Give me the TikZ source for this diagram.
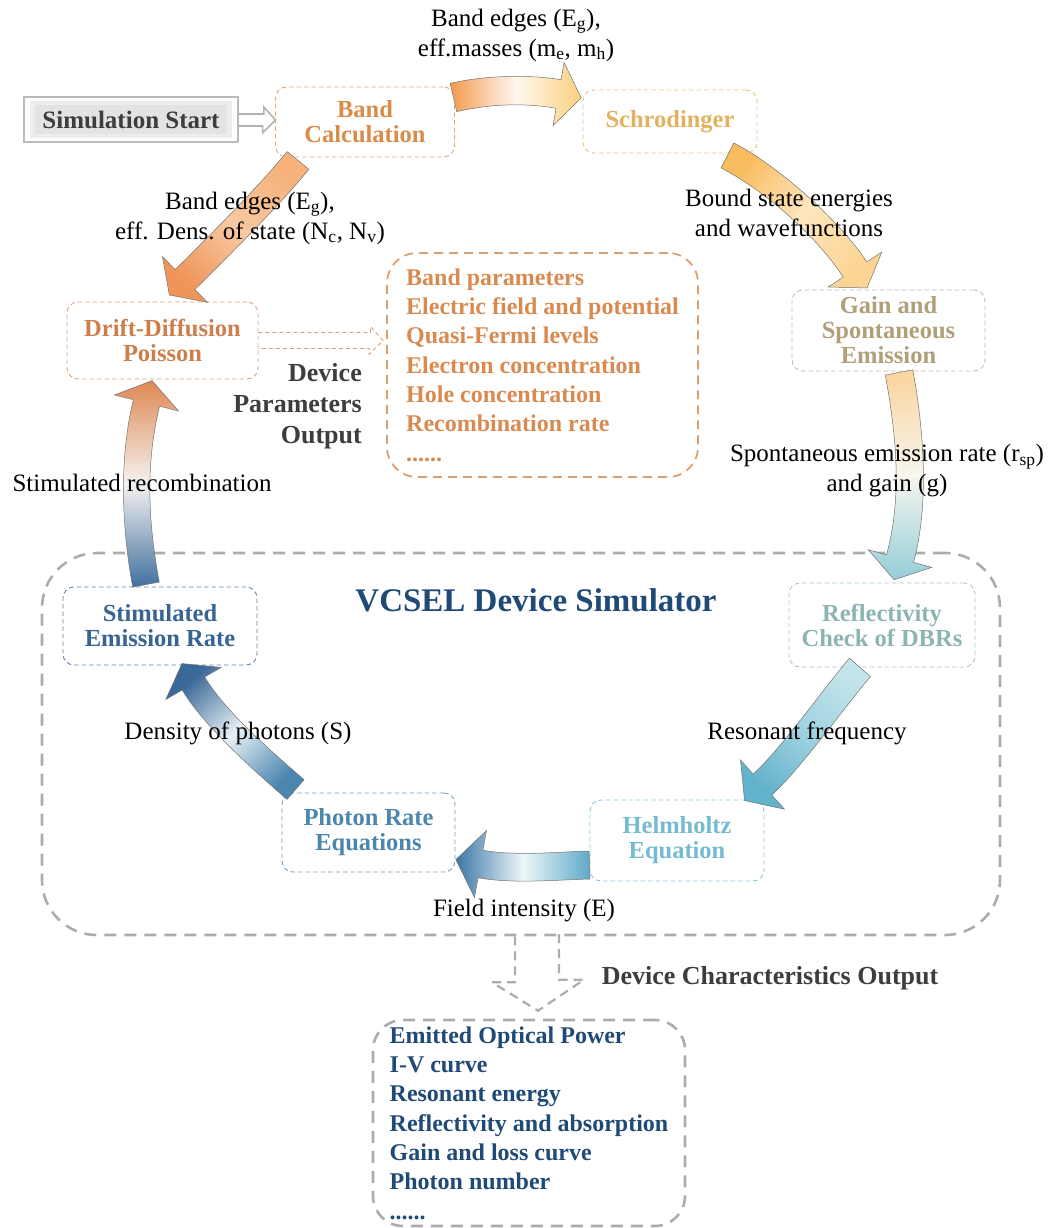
\documentclass[tikz,border=0pt]{standalone}
\usepackage{fontspec}
\setmainfont{Liberation Serif}
\usetikzlibrary{calc}
\definecolor{cBand}{HTML}{D98B48}\definecolor{cBandB}{HTML}{E0A771}
\definecolor{cSchro}{HTML}{E3B25E}\definecolor{cSchroB}{HTML}{E9C584}
\definecolor{cGain}{HTML}{B09F79}\definecolor{cGainB}{HTML}{C7BB9C}
\definecolor{cRefl}{HTML}{8BB4B2}\definecolor{cReflB}{HTML}{A9C9C8}
\definecolor{cHelm}{HTML}{74BBD2}\definecolor{cHelmB}{HTML}{86C5DA}
\definecolor{cPhot}{HTML}{4C86AD}\definecolor{cPhotB}{HTML}{73A1C0}
\definecolor{cStim}{HTML}{386494}\definecolor{cStimB}{HTML}{5F86AB}
\definecolor{cDrift}{HTML}{CC7F4C}\definecolor{cDriftB}{HTML}{DBA27C}
\definecolor{cParam}{HTML}{D98A50}\definecolor{cParamB}{HTML}{DE9F6E}
\definecolor{cTitle}{HTML}{1F4A78}
\definecolor{cGray}{HTML}{3D3D3D}
\definecolor{simgray}{HTML}{ACACAC}
% arrow colours: t tail, m middle, h head
\definecolor{aat}{HTML}{F29A4E}\definecolor{aam}{HTML}{FFF8F0}\definecolor{aah}{HTML}{FBD07E}
\definecolor{abt}{HTML}{F9BC5E}\definecolor{abm}{HTML}{FDE6BE}\definecolor{abh}{HTML}{FCD593}
\definecolor{act}{HTML}{FAD49C}\definecolor{acm}{HTML}{F8F6EF}\definecolor{ach}{HTML}{93CDD8}
\definecolor{adt}{HTML}{C3E4EA}\definecolor{adm}{HTML}{9ED2E0}\definecolor{adh}{HTML}{62B2CB}
\definecolor{aet}{HTML}{5EA9C8}\definecolor{aem}{HTML}{EEF6F9}\definecolor{aeh}{HTML}{3B76A6}
\definecolor{aft}{HTML}{4A86B0}\definecolor{afm}{HTML}{E8F0F6}\definecolor{afh}{HTML}{3A6898}
\definecolor{agt}{HTML}{40709F}\definecolor{agm}{HTML}{F4F2F0}\definecolor{agh}{HTML}{DF8853}
\definecolor{aht}{HTML}{F6B27A}\definecolor{ahm}{HTML}{F8C9A3}\definecolor{ahh}{HTML}{EF955A}
\newcommand\nodefnt{\fontsize{24.5}{25}\selectfont\bfseries}
\newcommand\lblfnt{\fontsize{25}{30}\selectfont}
\newcommand\listfnt{\fontsize{24}{29.3}\selectfont\bfseries}
\newcommand\outfnt{\fontsize{26}{31}\selectfont\bfseries}
% block arrow: P0, P1, P2, P3 (head base), half width, head half width, head length, style
\newcommand\blockarr[8]{%
  \coordinate (q0) at (#1);
  \coordinate (q1) at (#2);
  \coordinate (q2) at (#3);
  \coordinate (q3) at (#4);
  \coordinate (l0) at ($(q0)!#5!90:(q1)$);
  \coordinate (l1) at ($(q1)!#5!-90:(q0)$);
  \coordinate (l2) at ($(q2)!#5!90:(q3)$);
  \coordinate (l3) at ($(q3)!#5!-90:(q2)$);
  \coordinate (r0) at ($(q0)!#5!-90:(q1)$);
  \coordinate (r1) at ($(q1)!#5!90:(q0)$);
  \coordinate (r2) at ($(q2)!#5!-90:(q3)$);
  \coordinate (r3) at ($(q3)!#5!90:(q2)$);
  \coordinate (bl) at ($(q3)!#6!-90:(q2)$);
  \coordinate (br) at ($(q3)!#6!90:(q2)$);
  \coordinate (tp) at ($(q3)!#7!180:(q2)$);
  \path[barr,#8] (l0) .. controls (l1) and (l2) .. (l3) -- (bl) -- (tp) -- (br) -- (r3) .. controls (r2) and (r1) .. (r0) -- cycle;
}
\begin{document}
\begin{tikzpicture}[x=1pt,y=-1pt,
  nbox/.style={rectangle, rounded corners=11pt, dash pattern=on 4.5pt off 3pt, line width=0.9pt, inner sep=0pt, align=center, font=\nodefnt},
  lbl/.style={align=center, font=\lblfnt, inner sep=0pt},
  bigdash/.style={draw=simgray, line width=2.6pt, dash pattern=on 12pt off 8pt},
  barr/.style={draw=black!55, line width=0.5pt},
  lst/.style={align=left, font=\listfnt, inner sep=0pt}]
\useasboundingbox (0,0) rectangle (1059,1228);

% ---------- boxes ----------
\node[bigdash, rectangle, rounded corners=55pt, minimum width=958pt, minimum height=382pt] (sim) at (521,744) {};
\node[font=\fontsize{33}{36}\selectfont\bfseries, text=cTitle, inner sep=0pt] (title) at (536,600) {VCSEL Device Simulator};

\fill[black!7] (30,101) rectangle (232,138);
\fill[black!11] (35,105) rectangle (227,134);
\node[draw=black!27, line width=1.6pt, minimum width=214pt, minimum height=45pt, inner sep=0pt, font=\fontsize{25}{26}\selectfont\bfseries, text=cGray] (start) at (131,119.5) {Simulation Start};

\node[nbox, draw=cBandB, text=cBand, minimum width=179pt, minimum height=70pt] (band) at (365,122) {Band\\Calculation};
\node[nbox, draw=cSchroB, text=cSchro, minimum width=174pt, minimum height=63pt] (schro) at (670,121.5) {Schrodinger};
\node[nbox, draw=cGainB, text=cGain, minimum width=193pt, minimum height=81pt] (gain) at (888.5,330.5) {Gain and\\Spontaneous\\Emission};
\node[nbox, draw=cReflB, text=cRefl, minimum width=186pt, minimum height=84pt] (refl) at (882,625) {Reflectivity\\Check of DBRs};
\node[nbox, draw=cHelmB, text=cHelm, minimum width=174pt, minimum height=81pt] (helm) at (677,840.5) {Helmholtz\\Equation};
\node[nbox, draw=cPhotB, text=cPhot, minimum width=173pt, minimum height=79pt] (photon) at (368.5,832.5) {Photon Rate\\Equations};
\node[nbox, draw=cStimB, text=cStim, minimum width=194pt, minimum height=78pt] (stim) at (160,626) {Stimulated\\Emission Rate};
\node[nbox, draw=cDriftB, text=cDrift, minimum width=191pt, minimum height=77pt] (drift) at (162.5,340.5) {Drift-Diffusion\\Poisson};

\node[lst, draw=cParamB, text=cParam, rectangle, rounded corners=30pt, line width=1.8pt, dash pattern=on 9pt off 6pt, minimum width=311pt, minimum height=224pt] (params) at (542.5,365)
 {Band parameters\\Electric field and potential\\Quasi-Fermi levels\\Electron concentration\\Hole concentration\\Recombination rate\\......};
\node[lst, bigdash, text=cTitle, rectangle, rounded corners=30pt, minimum width=312pt, minimum height=206pt] (chars) at (529,1123)
 {Emitted Optical Power\\I-V curve\\Resonant energy\\Reflectivity and absorption\\Gain and loss curve\\Photon number\\......};

\node[font=\outfnt, text=cGray, align=right, anchor=east, inner sep=0pt] (dpo) at (362,406) {Device\\Parameters\\Output};
\node[font=\outfnt, text=cGray, inner sep=0pt] (dco) at (770,978) {Device Characteristics Output};

% ---------- hollow arrows ----------
\draw[black!30, line width=1.6pt, line join=miter] ($(start.east)+(0,-5.5)$) -- ++(25,0) -- ++(0,-7) -- ($(band.west)+(0.5,-2)$) -- ++(-13,13) -- ++(0,-7) -- ($(start.east)+(0,6.5)$);
\draw[cParamB, line width=0.9pt, dash pattern=on 4pt off 3pt] ($(drift.east)+(0,-8)$) -- ++(112,0) -- ++(0,-6) -- ($(params.west)+(-3,-24.5)$) -- ++(-14,14) -- ++(0,-6) -- ($(drift.east)+(0,8)$);
\draw[bigdash, line width=2.2pt, dash pattern=on 9pt off 6pt] ($(sim.south)+(-6,0)$) -- ++(0,46) -- ++(-23,0) -- ($(chars.north)+(9,-8)$) -- ++(46,-31) -- ++(-25,0) -- ++(0,-46);

% ---------- curved block arrows ----------
\blockarr{$(band.east)+(-1.5,-24.5)$}{490,89}{530,89}{$(schro.west)+(-24,-27.5)$}{14.5pt}{32pt}{23pt}{top color=aah, bottom color=aat, middle color=aam, shading angle=-90}
\blockarr{$(schro.south east)+(-30,2)$}{771,178}{828,228}{$(gain.north)+(-33.5,-20)$}{14pt}{32pt}{22pt}{top color=abh, bottom color=abt, middle color=abm, shading angle=-132}
\blockarr{$(gain.south)+(10.5,1)$}{910,431}{916,501}{$(refl.north)+(18,-24)$}{14pt}{33pt}{22pt}{top color=ach, bottom color=act, middle color=acm, shading angle=180}
\blockarr{$(refl.south)+(-22,0)$}{840,690}{790,760}{$(helm.north east)+(-2,-15)$}{14pt}{33pt}{24pt}{top color=adh, bottom color=adt, middle color=adm, shading angle=140}
\blockarr{$(helm.west)+(0,24.5)$}{555,866}{514,870}{$(photon.east)+(25,31.5)$}{14pt}{34pt}{25pt}{top color=aeh, bottom color=aet, middle color=aem, shading angle=90}
\blockarr{$(photon.north west)+(14,-3)$}{266,764}{213.5,718}{$(stim.south)+(33.5,18)$}{13pt}{32pt}{23pt}{top color=afh, bottom color=aft, middle color=afm, shading angle=44}
\blockarr{$(stim.north)+(-14,-2)$}{135,526}{132,461}{$(drift.south)+(-16,23.5)$}{13.5pt}{33pt}{23pt}{top color=agh, bottom color=agt, middle color=agm, shading angle=0}
\blockarr{$(band.south)+(-67,3)$}{270,195}{220,245}{$(drift.north)+(22.5,-22)$}{14pt}{32pt}{22pt}{top color=ahh, bottom color=aht, middle color=ahm, shading angle=137}

% ---------- labels ----------
\node[lbl] (l1) at (516,35) {Band edges (E\textsubscript{g}),\\eff.masses (m\textsubscript{e}, m\textsubscript{h})};
\node[lbl] (l2) at (789,213) {Bound state energies\\and wavefunctions};
\node[lbl] (l3) at (887,471) {Spontaneous emission rate (r\textsubscript{sp})\\and gain (g)};
\node[lbl] (l4) at (807,733) {Resonant frequency};
\node[lbl] (l5) at (524,911) {Field intensity (E)};
\node[lbl] (l6) at (238,733) {Density of photons (S)};
\node[lbl] (l7) at (142,483) {Stimulated recombination};
\node[lbl] (l8) at (250,218) {Band edges (E\textsubscript{g}),\\eff. Dens. of state (N\textsubscript{c}, N\textsubscript{v})};
\end{tikzpicture}
\end{document}
